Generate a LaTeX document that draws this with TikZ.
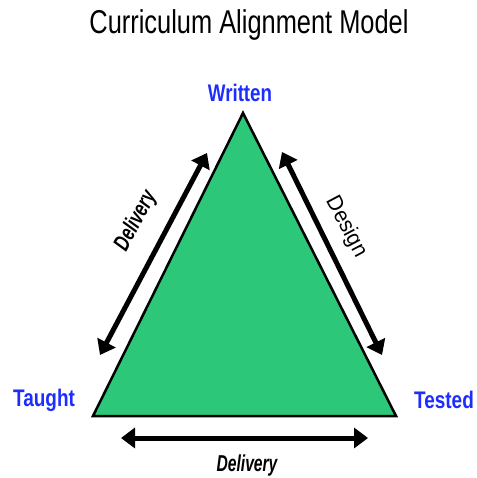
\documentclass[tikz,border=0pt]{standalone}
\usepackage{fontspec}
\setmainfont{Liberation Sans}
\usetikzlibrary{arrows.meta}
\definecolor{trigreen}{RGB}{44,199,120}
\definecolor{lblblue}{RGB}{30,45,255}
\tikzset{
  vlabel/.style={text=lblblue, font=\fontsize{24}{24}\selectfont\bfseries, inner sep=0pt},
  dblarrow/.style={line width=5pt, {Triangle[length=14pt,width=20pt]}-{Triangle[length=14pt,width=20pt]}},
  edgelabel/.style={inner sep=0pt, font=\fontsize{22}{22}\selectfont},
  delivlabel/.style={inner sep=0pt, font=\fontsize{23}{23}\selectfont\bfseries\itshape}
}
\begin{document}
\begin{tikzpicture}[x=1pt,y=-1pt]
\useasboundingbox (0,0) rectangle (476,478);
\node[inner sep=0pt, font=\fontsize{33}{33}\selectfont] (title) at (249,25) {\scalebox{0.77}[1]{Curriculum Alignment Model}};
\coordinate (apex) at (243,113);
\coordinate (bl) at (93,416);
\coordinate (br) at (396,416);
\draw[fill=trigreen, line width=2.5pt, line join=miter] (apex) -- (br) -- (bl) -- cycle;
\node[vlabel] (written) at (240,93) {\scalebox{0.78}[1]{Written}};
\node[vlabel] (taught) at (44,400) {\scalebox{0.79}[1]{Taught}};
\node[vlabel] (tested) at (444,400) {\scalebox{0.79}[1]{Tested}};
\coordinate (la) at (100,355);
\coordinate (lb) at (207,153);
\coordinate (ra) at (282,152);
\coordinate (rb) at (382,355);
\coordinate (ba) at (121,438);
\coordinate (bb) at (368,438);
\draw[dblarrow] (la) -- (lb);
\draw[dblarrow] (ra) -- (rb);
\draw[dblarrow] (ba) -- (bb);
\node[delivlabel, rotate=62] (dl) at (136,221) {\scalebox{0.72}[1]{Delivery}};
\node[edgelabel, rotate=-62] (ds) at (346,227) {\scalebox{0.95}[1]{Design}};
\node[delivlabel] (db) at (247,466) {\scalebox{0.68}[1]{Delivery}};
\end{tikzpicture}
\end{document}
